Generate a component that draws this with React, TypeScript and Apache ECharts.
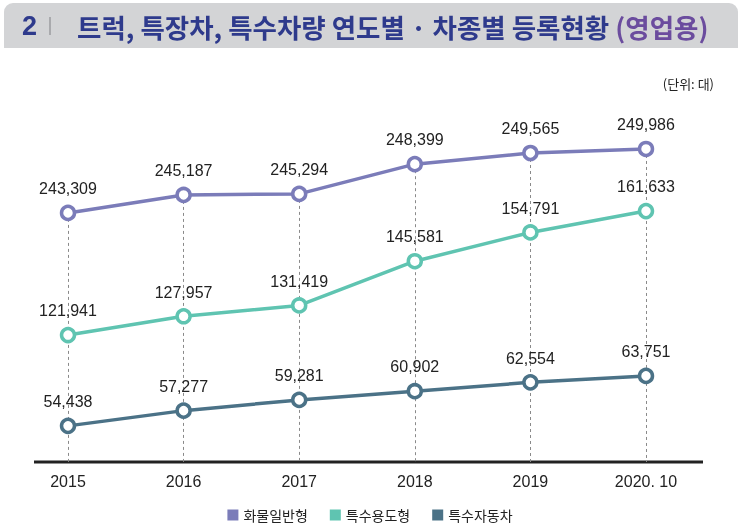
import React, { useEffect, useRef } from "react";
import * as echarts from "echarts";

// Registration years (last point is October 2020)
const years = ["2015", "2016", "2017", "2018", "2019", "2020. 10"];

const seriesNames = ["화물일반형", "특수용도형", "특수자동차"];
const generalCargo = [243309, 245187, 245294, 248399, 249565, 249986];
const specialPurpose = [121941, 127957, 131419, 145581, 154791, 161633];
const specialVehicle = [54438, 57277, 59281, 60902, 62554, 63751];

const colors = ["#7B7CB9", "#5FC4B1", "#4B7287"];

// each series gets its own hidden value scale so the three lines stack apart
const axisRanges = [
  { min: 217300, max: 255100 },
  { min: 81300, max: 197200 },
  { min: 47700, max: 115200 },
];

const fmt = (v: number) => v.toLocaleString("en-US");

export default function App() {
  const ref = useRef<HTMLDivElement>(null);

  useEffect(() => {
    if (!ref.current) return;
    const chart = echarts.init(ref.current, undefined, { renderer: "svg" });
    const seriesData = [generalCargo, specialPurpose, specialVehicle];

    const series: any[] = seriesData.map((data, i) => ({
      name: seriesNames[i],
      type: "line",
      yAxisIndex: i,
      data,
      symbol: "circle",
      symbolSize: 13,
      z: 3,
      lineStyle: { color: colors[i], width: 3.5 },
      itemStyle: { color: "#ffffff", borderColor: colors[i], borderWidth: 3.5 },
      label: {
        show: true,
        position: "top",
        distance: 8,
        color: "#222",
        fontSize: 16,
        fontFamily: "Liberation Sans, Arial, sans-serif",
        formatter: (p: any) => fmt(p.value),
      },
      emphasis: { disabled: true },
    }));

    // dashed drop lines from the top series down to the baseline
    series[0].markLine = {
      silent: true,
      symbol: "none",
      z: 1,
      label: { show: false },
      lineStyle: { color: "#8a8a8a", width: 1, type: [3, 3] },
      data: years.map((y, i) => [
        { coord: [y, generalCargo[i]] },
        { coord: [y, axisRanges[0].min] },
      ]),
    };

    chart.setOption({
      animation: false,
      grid: { left: 68, right: 94, top: 100, bottom: 67 },
      xAxis: {
        type: "category",
        data: years,
        boundaryGap: false,
        axisLine: { show: false },
        axisTick: { show: false },
        splitLine: { show: false },
        axisLabel: {
          color: "#222",
          fontSize: 16,
          margin: 11,
          fontFamily: "Liberation Sans, Arial, sans-serif",
        },
      },
      yAxis: axisRanges.map((r) => ({
        type: "value",
        min: r.min,
        max: r.max,
        show: false,
        splitLine: { show: false },
      })),
      legend: {
        top: 503,
        left: "center",
        icon: "rect",
        itemWidth: 11,
        itemHeight: 11,
        itemGap: 22,
        textStyle: {
          color: "#222",
          fontSize: 14,
          fontFamily: "Noto Sans CJK KR, sans-serif",
        },
        data: seriesNames.map((n, i) => ({
          name: n,
          itemStyle: { color: colors[i], borderWidth: 0 },
        })),
      },
      graphic: [
        {
          type: "rect",
          shape: { x: 4, y: 3, width: 734, height: 45, r: [9, 9, 0, 0] },
          style: { fill: "#D3D4D6" },
          silent: true,
        },
        {
          type: "text",
          x: 22,
          y: 26,
          style: {
            text: "2",
            verticalAlign: "middle",
            fontSize: 27,
            fontWeight: "bold",
            fill: "#2E3A8C",
            fontFamily: "Liberation Sans, Arial, sans-serif",
          },
          silent: true,
        },
        {
          type: "rect",
          shape: { x: 49, y: 17, width: 2, height: 18 },
          style: { fill: "#A9AAAD" },
          silent: true,
        },
        {
          type: "text",
          x: 77,
          y: 26,
          style: {
            text: "{m|트럭, 특장차, 특수차량 연도별 · 차종별 등록현황 }{p|(영업용)}",
            verticalAlign: "middle",
            rich: {
              m: { fontSize: 26.5, fontWeight: "bold", fill: "#2E3A8C", fontFamily: "Noto Sans CJK KR, sans-serif" },
              p: { fontSize: 26.5, fontWeight: "bold", fill: "#6B4C9E", fontFamily: "Noto Sans CJK KR, sans-serif" },
            },
          },
          silent: true,
        },
        {
          type: "text",
          right: 26,
          top: 77,
          style: {
            text: "(단위: 대)",
            fill: "#222",
            fontSize: 13,
            fontFamily: "Noto Sans CJK KR, sans-serif",
          },
          silent: true,
        },
        {
          type: "line",
          shape: { x1: 34, y1: 462, x2: 703, y2: 462 },
          style: { stroke: "#222", lineWidth: 3 },
          silent: true,
        },
      ],
      series,
    });

    return () => chart.dispose();
  }, []);

  return (
    <div
      ref={ref}
      style={{ position: "fixed", left: 0, top: 0, width: 740, height: 529 }}
    />
  );
}
